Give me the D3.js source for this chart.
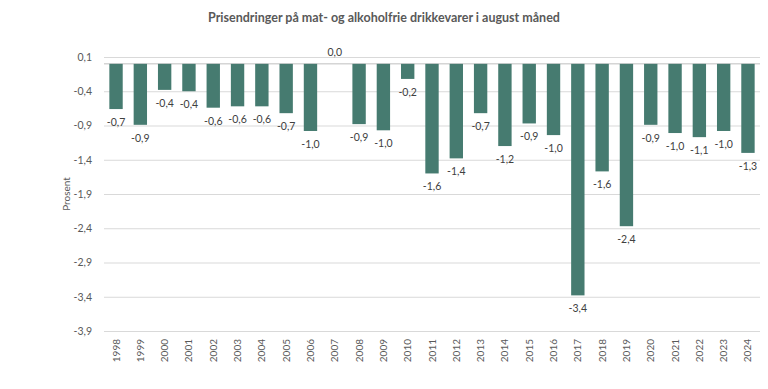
<!DOCTYPE html>
<html>
<head>
<meta charset="utf-8">
<script src="https://cdn.jsdelivr.net/npm/d3@7"></script>
<style>
  body { margin: 0; background: #fff; }
  svg text { font-family: Lato, "Open Sans", sans-serif; }
</style>
</head>
<body>
<div id="chart"></div>
<script>
// Data
var years = ["1998","1999","2000","2001","2002","2003","2004","2005","2006","2007",
  "2008","2009","2010","2011","2012","2013","2014","2015","2016","2017",
  "2018","2019","2020","2021","2022","2023","2024"];
var values = [-0.66, -0.89, -0.38, -0.4, -0.64, -0.62, -0.62, -0.72, -0.98, 0.0,
  -0.88, -0.97, -0.22, -1.6, -1.38, -0.72, -1.2, -0.87, -1.04, -3.38,
  -1.57, -2.37, -0.89, -1.01, -1.07, -0.98, -1.3];
var yTicks = [0.1, -0.4, -0.9, -1.4, -1.9, -2.4, -2.9, -3.4, -3.9];

var W = 768, H = 389;
var margin = {top: 57, right: 8, bottom: 58, left: 104};

var svg = d3.select("#chart").append("svg")
  .attr("width", W).attr("height", H);

var x = d3.scaleBand()
  .domain(years)
  .range([margin.left, W - margin.right])
  .paddingInner(0.45).paddingOuter(0.22);

var y = d3.scaleLinear()
  .domain([-3.9, 0.1])
  .range([H - margin.bottom, margin.top]);

// norsk desimalkomma, vanlig bindestrek som minus
var comma = function(v) { return d3.format(".1f")(v).replace(".", ",").replace("\u2212", "-"); };

// Title
svg.append("text")
  .attr("x", 384).attr("y", 22)
  .attr("text-anchor", "middle")
  .attr("font-size", 12.5).attr("font-weight", "bold")
  .attr("fill", "#595959")
  .text("Prisendringer på mat- og alkoholfrie drikkevarer i august måned");

// Gridlines + y axis labels
var yAxis = svg.append("g")
  .attr("transform", "translate(" + margin.left + ",0)")
  .call(d3.axisLeft(y).tickValues(yTicks).tickSize(-(W - margin.left - margin.right)).tickPadding(12).tickFormat(comma));
yAxis.select(".domain").remove();
yAxis.selectAll("line").attr("stroke", "#d9d9d9");
yAxis.selectAll("text").attr("fill", "#595959").attr("font-size", 10.5);

// Zero baseline
svg.append("line")
  .attr("x1", margin.left).attr("x2", W - margin.right)
  .attr("y1", y(0)).attr("y2", y(0))
  .attr("stroke", "#bfbfbf");

// Axis title
svg.append("text")
  .attr("transform", "translate(70," + ((margin.top + H - margin.bottom) / 2) + ") rotate(-90)")
  .attr("text-anchor", "middle")
  .attr("font-size", 10).attr("fill", "#595959")
  .text("Prosent");

// Bars
svg.selectAll("rect.bar")
  .data(values)
  .enter().append("rect")
  .attr("class", "bar")
  .attr("x", function(d, i) { return x(years[i]); })
  .attr("width", x.bandwidth())
  .attr("y", function(d) { return y(Math.max(0, d)); })
  .attr("height", function(d) { return Math.abs(y(d) - y(0)); })
  .attr("fill", "#467b70");

// Value labels
svg.selectAll("text.lbl")
  .data(values)
  .enter().append("text")
  .attr("class", "lbl")
  .attr("x", function(d, i) { return x(years[i]) + x.bandwidth() / 2; })
  .attr("y", function(d) { return d < 0 ? y(d) + 17 : y(d) - 8; })
  .attr("text-anchor", "middle")
  .attr("font-size", 10.5).attr("fill", "#404040")
  .text(function(d) { return comma(d); });

// Year labels
svg.selectAll("text.yr")
  .data(years)
  .enter().append("text")
  .attr("class", "yr")
  .attr("transform", function(d) {
    return "translate(" + (x(d) + x.bandwidth() / 2 + 3.5) + "," + (H - margin.bottom + 8) + ") rotate(-90)";
  })
  .attr("text-anchor", "end")
  .attr("font-size", 10).attr("fill", "#595959")
  .text(function(d) { return d; });
</script>
</body>
</html>
